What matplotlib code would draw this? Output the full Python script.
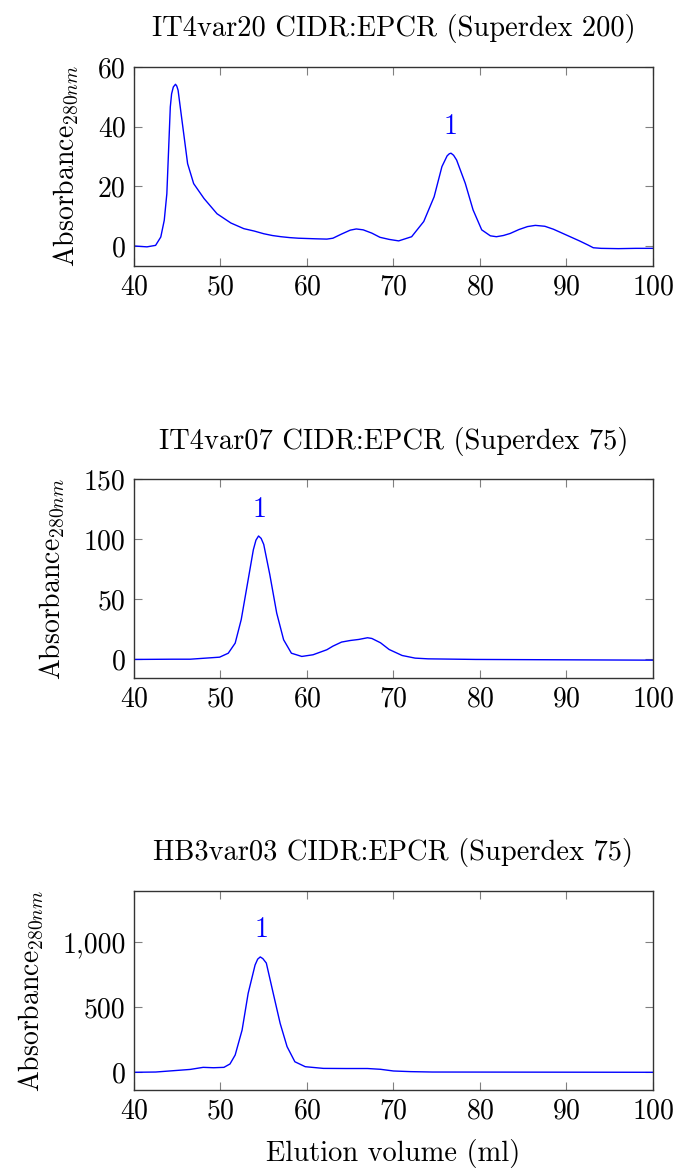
import matplotlib
matplotlib.use("Agg")
import matplotlib.pyplot as plt
from matplotlib.ticker import FuncFormatter

plt.rcParams['font.family'] = ['cmr10', 'DejaVu Serif']
plt.rcParams['mathtext.fontset'] = 'cm'
plt.rcParams['axes.formatter.use_mathtext'] = True

# IT4var20 CIDR:EPCR (Superdex 200)
vol_a = [40, 41.5, 42.5, 43.1, 43.5, 43.8, 44.0, 44.2, 44.35, 44.55, 44.8, 44.95, 45.1,
         45.5, 45.9, 46.2, 46.9, 48.1, 49.6, 51.2, 52.7, 53.9, 55, 56, 57, 58, 59, 60, 61,
         62.3, 63, 64, 65, 65.7, 66.5, 67.5, 68.44, 69.5, 70.6, 72.1, 73.5, 74.7, 75.6,
         76.2, 76.45, 76.65, 76.95, 77.3, 78.3, 79.2, 80.2, 81.2, 81.9, 82.7, 83.5, 84.5,
         85.5, 86.4, 87.5, 88.5, 89.5, 90.5, 91.5, 92.5, 93.1, 94, 96, 98, 100]
abs_a = [0, -0.3, 0.2, 3, 8.6, 17.5, 32, 46.6, 51, 53.3, 54.2, 53.6, 52.2,
         43.2, 34.3, 27.6, 20.9, 15.9, 10.8, 7.7, 5.8, 5.0, 4.1, 3.5, 3.1, 2.8, 2.6, 2.5, 2.4,
         2.3, 2.6, 4.0, 5.3, 5.7, 5.4, 4.3, 2.9, 2.2, 1.7, 3.1, 8.2, 16.5, 26.6,
         30.2, 30.9, 31.1, 30.4, 28.8, 21, 12.1, 5.4, 3.4, 3.1, 3.5, 4.2, 5.5,
         6.5, 6.9, 6.6, 5.6, 4.3, 3.0, 1.7, 0.3, -0.6, -0.8, -0.9, -0.8, -0.8]

# IT4var07 CIDR:EPCR (Superdex 75)
vol_b = [40, 44.5, 46.5, 49.9, 50.9, 51.7, 52.4, 53.2, 53.8, 54.1, 54.4, 54.7, 55.0,
         55.7, 56.5, 57.3, 58.2, 59.4, 60.7, 62.3, 63, 64, 65, 66, 67, 67.5, 68.5, 69.5,
         71, 72.5, 74, 79.5, 89.5, 100]
abs_b = [-0.5, -0.3, -0.3, 1.4, 4.7, 13.1, 32.8, 66, 91, 99, 102.5, 100.5, 95.5,
         70.4, 38.2, 15.9, 4.7, 2.0, 3.4, 7.6, 10.6, 14, 15.3, 16.2, 17.6, 17, 13.4, 7.8,
         2.8, 0.6, 0, -0.5, -0.8, -1.1]

# HB3var03 CIDR:EPCR (Superdex 75)
vol_c = [40, 42.5, 44.5, 46.5, 48.0, 49.2, 50.4, 51.1, 51.7, 52.5, 53.2, 54.0, 54.3,
         54.6, 54.9, 55.3, 56.1, 56.9, 57.7, 58.6, 59.8, 61.9, 64.5, 67, 68.5, 70, 72,
         74.5, 100]
abs_c = [-2, 0, 10, 20, 36, 33, 36, 62, 131, 323, 605, 823, 868,
         885, 872, 838, 605, 374, 195, 79, 41, 28, 27, 27, 21, 8, 3, 0, -2]

titles = ["IT4var20 CIDR:EPCR (Superdex 200)",
          "IT4var07 CIDR:EPCR (Superdex 75)",
          "HB3var03 CIDR:EPCR (Superdex 75)"]
peak_pos = [(76.6, 40), (54.5, 124), (54.8, 1090)]
ylims = [(-6.7, 60), (-16, 150), (-138, 1392)]
yticks = [[0, 20, 40, 60], [0, 50, 100, 150], [0, 500, 1000]]

fig = plt.figure(figsize=(6.78, 11.69), dpi=100)
bottoms = [0.7725, 0.42, 0.0676]
series = [(vol_a, abs_a), (vol_b, abs_b), (vol_c, abs_c)]

for i, (x, y) in enumerate(series):
    ax = fig.add_axes([0.1976, bottoms[i], 0.7655, 0.1702])
    ax.plot(x, y, color='blue', lw=1.0)
    ax.set_xlim(40, 100)
    ax.set_ylim(*ylims[i])
    ax.set_xticks(range(40, 101, 10))
    ax.set_yticks(yticks[i])
    ax.yaxis.set_major_formatter(FuncFormatter(lambda v, p: f"{int(v):,}"))
    ax.tick_params(direction='in', length=6, width=0.8, color='#808080',
                   top=True, right=True, labelsize=20, pad=6)
    for s in ax.spines.values():
        s.set_color('#333333')
        s.set_linewidth(1.0)
    ax.set_title(titles[i], fontsize=20.5, pad=22)
    ax.set_ylabel(r"Absorbance$_{280nm}$", fontsize=20, labelpad=12)
    ax.text(peak_pos[i][0], peak_pos[i][1], "1", color='blue', fontsize=20,
            ha='center', va='center')
    if i == 2:
        ax.set_xlabel("Elution volume (ml)", fontsize=20.5, labelpad=10)

fig.savefig("out.png", dpi=100)
